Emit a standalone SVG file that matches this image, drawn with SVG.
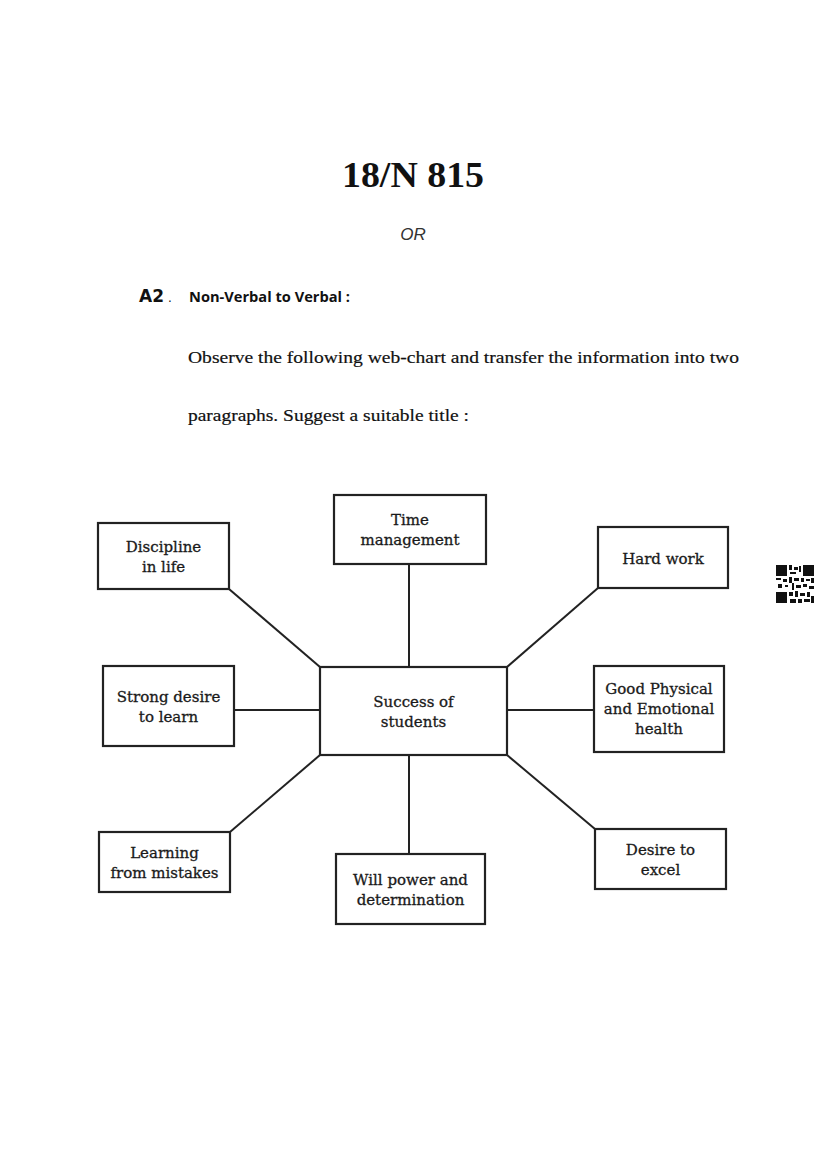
<svg xmlns="http://www.w3.org/2000/svg" width="826" height="1169" viewBox="0 0 826 1169">
<style>
.box{fill:#fff;stroke:#222;stroke-width:2.2}
.con line{stroke:#222;stroke-width:2}
.lbl{font-family:"DejaVu Serif","Liberation Serif",serif;font-size:15px;fill:#1a1a1a;stroke:#1a1a1a;stroke-width:0.3;text-anchor:middle}
.body{font-family:"Liberation Serif","DejaVu Serif",serif;font-size:17px;fill:#111;stroke:#111;stroke-width:0.2}
.qr rect{fill:#111}
</style>
<rect width="826" height="1169" fill="#fff"/>
<text x="413" y="187" font-family="Liberation Serif, serif" font-weight="bold" font-size="36" text-anchor="middle" textLength="142" lengthAdjust="spacingAndGlyphs" fill="#111">18/N 815</text>
<text x="413" y="240" font-family="Liberation Sans, sans-serif" font-style="italic" font-size="17" text-anchor="middle" fill="#333" font-weight="300">OR</text>
<text x="139" y="302" font-family="DejaVu Sans, sans-serif" font-weight="bold" font-size="17" fill="#111">A2</text>
<text x="168" y="302" font-family="DejaVu Sans, sans-serif" font-size="12" fill="#111">.</text>
<text x="189" y="302" font-family="Open Sans, sans-serif" font-weight="bold" font-size="14" textLength="161" lengthAdjust="spacingAndGlyphs" fill="#111">Non-Verbal to Verbal :</text>
<text x="188" y="363" class="body" textLength="551" lengthAdjust="spacingAndGlyphs">Observe the following web-chart and transfer the information into two</text>
<text x="188" y="421" class="body" textLength="281" lengthAdjust="spacingAndGlyphs">paragraphs. Suggest a suitable title :</text>

<g id="connectors" class="con">
<line x1="229" y1="589" x2="320" y2="667"/>
<line x1="409" y1="564" x2="409" y2="667"/>
<line x1="598" y1="588" x2="507" y2="667"/>
<line x1="234" y1="710" x2="320" y2="710"/>
<line x1="507" y1="710" x2="594" y2="710"/>
<line x1="320" y1="755" x2="230" y2="832"/>
<line x1="409" y1="755" x2="409" y2="854"/>
<line x1="507" y1="755" x2="595" y2="829"/>
</g>

<g id="center">
<rect class="box" x="320" y="667" width="187" height="88"/>
<text class="lbl" x="413.5" y="707">Success of</text>
<text class="lbl" x="413.5" y="727">students</text>
</g>
<g id="time">
<rect class="box" x="334" y="495" width="152" height="69"/>
<text class="lbl" x="410" y="525">Time</text>
<text class="lbl" x="410" y="545">management</text>
</g>
<g id="discipline">
<rect class="box" x="98" y="523" width="131" height="66"/>
<text class="lbl" x="163.5" y="552">Discipline</text>
<text class="lbl" x="163.5" y="572">in life</text>
</g>
<g id="hardwork">
<rect class="box" x="598" y="527" width="130" height="61"/>
<text class="lbl" x="663" y="563.5">Hard work</text>
</g>
<g id="desire-learn">
<rect class="box" x="103" y="666" width="131" height="80"/>
<text class="lbl" x="168.5" y="702">Strong desire</text>
<text class="lbl" x="168.5" y="722">to learn</text>
</g>
<g id="health">
<rect class="box" x="594" y="666" width="130" height="86"/>
<text class="lbl" x="659" y="694">Good Physical</text>
<text class="lbl" x="659" y="714">and Emotional</text>
<text class="lbl" x="659" y="734">health</text>
</g>
<g id="learning">
<rect class="box" x="99" y="832" width="131" height="60"/>
<text class="lbl" x="164.5" y="858">Learning</text>
<text class="lbl" x="164.5" y="878">from mistakes</text>
</g>
<g id="willpower">
<rect class="box" x="336" y="854" width="149" height="70"/>
<text class="lbl" x="410.5" y="885">Will power and</text>
<text class="lbl" x="410.5" y="905">determination</text>
</g>
<g id="excel">
<rect class="box" x="595" y="829" width="131" height="60"/>
<text class="lbl" x="660.5" y="855">Desire to</text>
<text class="lbl" x="660.5" y="875">excel</text>
</g>

<g class="qr">
<rect x="776" y="565" width="11" height="11"/><rect x="778" y="567" width="7" height="7" fill="#fff"/><rect x="779.5" y="568.5" width="4" height="4"/>
<rect x="803" y="565" width="11" height="11"/><rect x="805" y="567" width="7" height="7" fill="#fff"/><rect x="806.5" y="568.5" width="4" height="4"/>
<rect x="776" y="592" width="11" height="11"/><rect x="778" y="594" width="7" height="7" fill="#fff"/><rect x="779.5" y="595.5" width="4" height="4"/>
<rect x="789" y="565" width="3" height="5"/><rect x="794" y="567" width="4" height="3"/><rect x="790" y="572" width="6" height="2"/><rect x="799" y="566" width="2" height="6"/>
<rect x="776" y="578" width="5" height="2"/><rect x="783" y="579" width="4" height="3"/><rect x="789" y="577" width="3" height="6"/><rect x="794" y="578" width="5" height="3"/>
<rect x="801" y="578" width="3" height="4"/><rect x="806" y="579" width="4" height="2"/><rect x="811" y="578" width="3" height="5"/><rect x="778" y="584" width="4" height="4"/>
<rect x="785" y="585" width="3" height="2"/><rect x="792" y="583" width="2" height="7"/><rect x="796" y="585" width="5" height="3"/><rect x="803" y="584" width="4" height="3"/>
<rect x="809" y="586" width="5" height="3"/><rect x="789" y="592" width="4" height="4"/><rect x="795" y="591" width="3" height="6"/><rect x="800" y="593" width="5" height="3"/>
<rect x="807" y="592" width="3" height="5"/><rect x="790" y="599" width="6" height="4"/><rect x="798" y="599" width="4" height="4"/><rect x="804" y="599" width="6" height="3"/><rect x="811" y="596" width="3" height="7"/>
</g>
</svg>
